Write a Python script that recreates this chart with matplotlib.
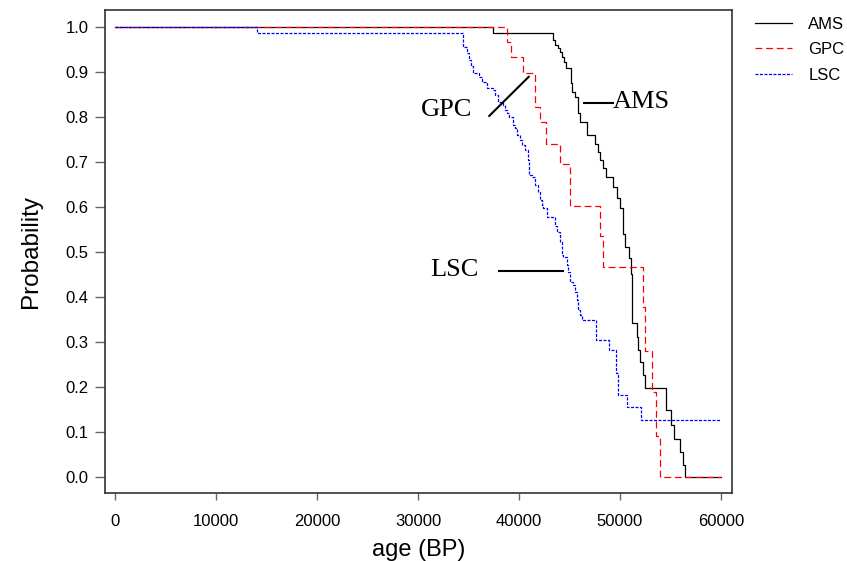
import matplotlib.pyplot as plt
import matplotlib.ticker as mticker

# step curves: age where the probability drops, value after the drop
ams_age = [0, 37400, 43390, 43560, 43830, 44055, 44280, 44480, 44620, 45145, 45215,
           45540, 45870, 46005, 46700, 47520, 47790, 48015, 48340, 48580, 49275,
           49670, 49995, 50260, 50490, 50915, 51055, 51155, 51650, 51805, 51975,
           52300, 52470, 54550, 55045, 55340, 55935, 56260, 56430, 60000]
ams_prob = [1.0, 0.986, 0.971, 0.960, 0.953, 0.944, 0.934, 0.923, 0.908, 0.875, 0.856,
            0.845, 0.808, 0.789, 0.760, 0.741, 0.723, 0.704, 0.686, 0.667, 0.645,
            0.619, 0.597, 0.541, 0.511, 0.486, 0.452, 0.341, 0.311, 0.282, 0.256,
            0.226, 0.197, 0.148, 0.115, 0.085, 0.056, 0.026, 0.0, 0.0]

gpc_age = [0, 38780, 39205, 40420, 41580, 42075, 42670, 44055, 45045, 48015, 48280,
           52300, 52520, 53190, 53530, 53955, 60000]
gpc_prob = [1.0, 0.967, 0.934, 0.899, 0.823, 0.789, 0.741, 0.695, 0.603, 0.535, 0.467,
            0.377, 0.280, 0.188, 0.091, 0.0, 0.0]

lsc_age = [0, 14060, 34485, 34820, 35080, 35245, 35445, 36040, 36335, 36830, 37425,
           37620, 37920, 38415, 38610, 38810, 39010, 39405, 39600, 39800, 40095,
           40295, 40590, 40890, 41040, 41285, 41580, 41910, 42075, 42275, 42400,
           42740, 43560, 43730, 44055, 44225, 44380, 44720, 44875, 45045, 45370,
           45540, 45710, 45865, 46035, 46205, 47620, 48935, 49600, 49825, 50660,
           52045, 60000]
lsc_prob = [1.0, 0.987, 0.956, 0.943, 0.927, 0.913, 0.897, 0.889, 0.878, 0.864, 0.860,
            0.849, 0.834, 0.827, 0.815, 0.809, 0.800, 0.782, 0.775, 0.760, 0.749,
            0.738, 0.726, 0.704, 0.670, 0.666, 0.649, 0.633, 0.615, 0.604, 0.597,
            0.578, 0.558, 0.545, 0.523, 0.493, 0.489, 0.471, 0.455, 0.434, 0.426,
            0.411, 0.393, 0.371, 0.360, 0.348, 0.304, 0.282, 0.231, 0.182, 0.156,
            0.126, 0.126]

series_names = ['AMS', 'GPC', 'LSC']

# in-plot labels: text anchor and leader line (x0, y0, x1, y1)
label_text = {'GPC': (35350, 0.815), 'LSC': (36040, 0.459), 'AMS': (49330, 0.833)}
label_line = {'GPC': (37055, 0.8025, 40965, 0.8895),
              'LSC': (38015, 0.457, 44350, 0.457),
              'AMS': (46460, 0.832, 49270, 0.832)}

fig = plt.figure(figsize=(8.47, 5.61), dpi=100)
ax = fig.add_axes([105 / 847, 68 / 561, 627 / 847, 483 / 561])

ax.step(ams_age, ams_prob, where='post', color='black', lw=0.9, label='AMS')
ax.step(gpc_age, gpc_prob, where='post', color='#ff0000', lw=0.9,
        linestyle=(0, (5.5, 3)), label='GPC')
ax.step(lsc_age, lsc_prob, where='post', color='#0000ff', lw=0.9,
        linestyle=(0, (2.4, 1.2)), label='LSC')

for name in series_names:
    x0, y0, x1, y1 = label_line[name]
    ax.plot([x0, x1], [y0, y1], color='black', lw=1.5)
    tx, ty = label_text[name]
    ax.text(tx, ty, name, ha='left' if name == 'AMS' else 'right', va='center',
            fontsize=19, family='Liberation Serif')

ax.set_xlim(-990, 61090)
ax.set_ylim(-0.036, 1.038)
ax.set_xticks(range(0, 60001, 10000))
ax.set_yticks([i / 10 for i in range(11)])
ax.yaxis.set_major_formatter(mticker.FormatStrFormatter('%.1f'))

for s in ax.spines.values():
    s.set_color('#333333')
    s.set_linewidth(1.2)
ax.tick_params(axis='x', length=5, width=1, color='#666666', pad=10, labelsize=12)
ax.tick_params(axis='y', length=7, width=1, color='#666666', pad=5, labelsize=12)
for lab in ax.get_xticklabels() + ax.get_yticklabels():
    lab.set_family('Liberation Sans')

ax.set_xlabel('age (BP)', fontsize=17, family='Liberation Sans', labelpad=7)
ax.set_ylabel('Probability', fontsize=17.5, family='Liberation Sans', labelpad=17)

fig.legend(loc='upper left', bbox_to_anchor=(755 / 847, 1 - 17 / 561), frameon=False,
           prop={'family': 'Liberation Sans', 'size': 12}, handlelength=2.2,
           handletextpad=1.0, labelspacing=0.62, borderpad=0, borderaxespad=0)

fig.savefig('out.png', dpi=100)
